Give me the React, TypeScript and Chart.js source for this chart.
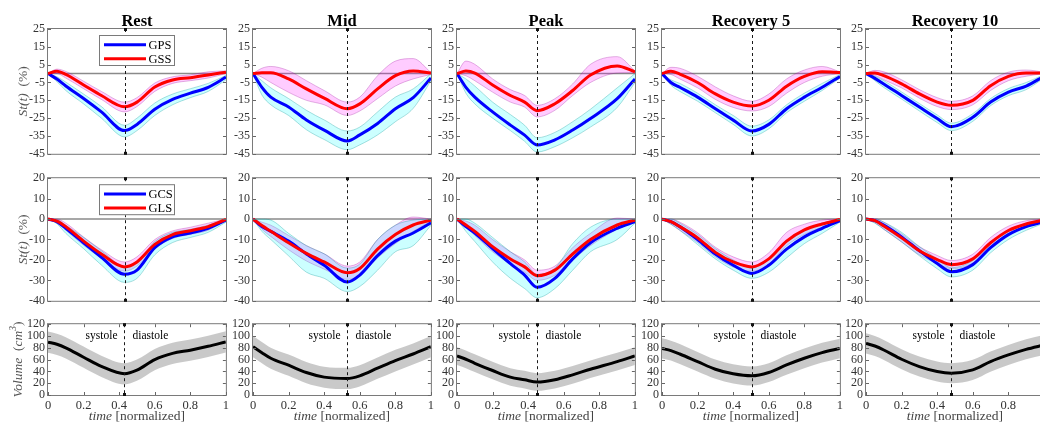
import React, { useEffect, useRef } from "react";
import { Chart, registerables } from "chart.js";
Chart.register(...registerables);

// ---------------- labels / ticks ----------------
const PANEL_TITLES = ["Rest", "Mid", "Peak", "Recovery 5", "Recovery 10"];
const END_SYSTOLE = [0.43, 0.53, 0.45, 0.505, 0.48];
const TOP_TICKS = [-45, -35, -25, -15, -5, 5, 15, 25];
const MID_TICKS = [-40, -30, -20, -10, 0, 10, 20];
const VOLUME_TICKS = [0, 20, 40, 60, 80, 100, 120];
const TIME_TICKS = [0, 0.2, 0.4, 0.6, 0.8, 1];
const TOP_LEGEND = ["GPS", "GSS"];
const MID_LEGEND = ["GCS", "GLS"];

// ---------------- time grids (normalized) ----------------
const T_REST = [0, 0.05, 0.1, 0.2, 0.3, 0.43, 0.5, 0.6, 0.7, 0.8, 0.9, 1];
const T_MID = [0, 0.05, 0.1, 0.2, 0.3, 0.4, 0.53, 0.6, 0.7, 0.8, 0.9, 1];
const T_PEAK = [0, 0.05, 0.1, 0.2, 0.3, 0.38, 0.45, 0.55, 0.65, 0.75, 0.9, 1];
const T_REC5 = [0, 0.05, 0.1, 0.2, 0.3, 0.4, 0.505, 0.6, 0.7, 0.8, 0.9, 1];
const T_REC10 = [0, 0.05, 0.1, 0.2, 0.3, 0.4, 0.48, 0.6, 0.7, 0.8, 0.9, 1];

// ---------------- GPS (row 1, blue) ----------------
const GPS_REST = [0, -3.1, -7, -14, -21.5, -32, -28.5, -20, -14.5, -11, -7.7, -2];
const GPS_REST_LO = [0, -4.5, -9.5, -17, -25, -35.5, -32, -23.5, -17.5, -13.5, -10, -3.5];
const GPS_REST_HI = [0, -1.8, -4.8, -11.5, -18.5, -29, -25, -16.5, -11.5, -8.5, -5.5, -1];
const GPS_MID = [0, -7.7, -13.2, -18.7, -26, -31.7, -37.8, -34.4, -28, -19.7, -13.5, -2.5];
const GPS_MID_LO = [0, -12, -17.5, -23.5, -31.5, -37, -42.7, -40, -34.4, -27, -19.5, -4];
const GPS_MID_HI = [0, -4, -8, -14, -20.6, -26, -32.2, -30, -21.5, -13.2, -8.6, 0];
const GPS_PEAK = [0, -7.7, -13.2, -21.5, -28.9, -34.5, -40, -37.2, -31.7, -25.2, -14.1, -3];
const GPS_PEAK_LO = [0, -11, -17, -25, -32, -38, -44, -41, -36, -30, -19, -5];
const GPS_PEAK_HI = [0, -3, -7, -16, -23, -29, -36, -33, -27, -20, -8, 0];
const GPS_REC5 = [0, -5, -7.7, -13.2, -19.7, -26.1, -32.2, -28.5, -19.7, -13.2, -7.7, -1.6];
const GPS_REC5_LO = [0, -6.5, -10, -15.5, -22, -28.5, -35, -31, -22, -15.5, -9.5, -2.5];
const GPS_REC5_HI = [0, -3.5, -5.5, -11, -17.5, -23.5, -29.5, -26, -17.5, -11, -5.5, -0.5];
const GPS_REC10 = [0, -2.7, -5.8, -12.3, -18.8, -25.2, -29.8, -24.5, -16, -10.4, -7, -1.5];
const GPS_REC10_LO = [0, -4, -7.8, -14.3, -21, -27.5, -32, -26.8, -18, -12.4, -9, -2.5];
const GPS_REC10_HI = [0, -1.5, -4, -10.3, -16.8, -23.2, -27.8, -22.5, -14, -8.4, -5, -0.5];

// ---------------- GSS (row 1, red) ----------------
const GSS_REST = [0, 1.3, -0.5, -6.4, -12.3, -18.6, -16, -7.5, -3.6, -2.3, -0.8, 0.8];
const GSS_REST_LO = [0, 0, -2.5, -8.5, -14.5, -21.5, -18.5, -10, -5.5, -4, -2.5, 0];
const GSS_REST_HI = [0, 2.5, 1.2, -4.3, -10, -16, -13.5, -5.3, -1.8, -0.7, 1, 1.5];
const GSS_MID = [0, 0.5, 0.5, -3, -8.6, -13.8, -19.7, -17, -8.6, -1.2, 1.5, 0.3];
const GSS_MID_LO = [0, -2, -5, -10.5, -15, -17.5, -23.5, -21, -14, -7, -3, -0.5];
const GSS_MID_HI = [0, 3, 4, 1.6, -4, -9.5, -16, -13.2, -1.2, 7, 8.4, 0.6];
const GSS_PEAK = [0, 1.4, 0.3, -6.4, -12.3, -16, -20.8, -16.9, -9.5, -0.8, 4.3, 1];
const GSS_PEAK_LO = [0, -1.2, -4, -10.4, -16, -18.8, -24.3, -20.6, -12.3, -5, 0.3, 0.5];
const GSS_PEAK_HI = [0, 7, 5.2, -3, -9, -12.3, -17.8, -14.1, -5.8, 5.2, 9.5, 1.5];
const GSS_REC5 = [0, 1.3, -0.3, -5, -11.4, -16, -18.2, -15, -7.1, -1.6, 1, 0.6];
const GSS_REC5_LO = [0, -0.5, -3, -8, -14.5, -19, -21, -18.5, -11, -5, -1.5, 0];
const GSS_REC5_HI = [0, 3.5, 3, -1.5, -7.5, -12.5, -15.5, -11.5, -3, 2, 4, 1];
const GSS_REC10 = [0, 0.3, -1.2, -5.8, -11.4, -16, -17.8, -15, -6.8, -1.6, 0.3, 0.3];
const GSS_REC10_LO = [0, -1, -3.5, -8, -13.8, -18.5, -20.2, -17.5, -9.5, -4, -1.5, 0];
const GSS_REC10_HI = [0, 1.8, 1, -3.5, -9, -13.5, -15.5, -12.5, -4, 0.8, 2, 0.8];

// ---------------- GCS (row 2, blue) ----------------
const GCS_REST = [0, -1.3, -4.5, -11.6, -18.7, -27, -25, -14, -8.7, -6.8, -4.5, -0.5];
const GCS_REST_LO = [0, -2.3, -7, -14.5, -22.5, -31, -29, -17.5, -11.5, -9, -6.5, -1.5];
const GCS_REST_HI = [0, -0.3, -3, -9, -15.5, -23, -21, -11, -6.5, -5, -3, 0];
const GCS_MID = [0, -3.7, -6, -10.8, -17.1, -22.6, -30.8, -27.4, -17.9, -10.8, -6.8, -1.8];
const GCS_MID_LO = [0, -6, -10, -18, -26, -29, -35.5, -33, -25, -16, -13, -3];
const GCS_MID_HI = [0, 0, -0.5, -7, -13, -17, -24, -22, -10, -3, -0.5, 0];
const GCS_PEAK = [0, -3.7, -6.8, -14.4, -21.8, -27.4, -33.4, -29, -19.5, -11.6, -4.5, -1.3];
const GCS_PEAK_LO = [0, -6, -11, -21, -29, -34, -38.5, -34, -25, -16, -10, -2];
const GCS_PEAK_HI = [0, 0, -2, -9, -16, -21, -27, -24, -12, -4, 0, 0];
const GCS_REC5 = [0, -1.3, -3.7, -10, -17.1, -22.6, -26.6, -22.6, -14.7, -8.7, -4.5, -0.8];
const GCS_REC5_LO = [0, -2.5, -5.5, -12.5, -19.5, -25, -29, -26, -19, -12, -7, -1.5];
const GCS_REC5_HI = [0, 0, -2, -7.5, -14.5, -20, -24, -19, -11, -5.5, -2, 0];
const GCS_REC10 = [0, -0.8, -2.9, -8.7, -15.5, -21.8, -25.8, -22.3, -14, -7.6, -3.7, -1.3];
const GCS_REC10_LO = [0, -2, -5, -11.2, -18, -24.3, -28.3, -25, -16.5, -10, -5.5, -2];
const GCS_REC10_HI = [0, 0, -1.5, -6.5, -13.5, -19.5, -23.8, -20.3, -12, -5.6, -2, 0];

// ---------------- GLS (row 2, red) ----------------
const GLS_REST = [0, -1, -3.7, -10.8, -17.1, -23.4, -21, -12.4, -7.6, -5.7, -3.7, -0.2];
const GLS_REST_LO = [0, -2, -5.5, -12.8, -19.2, -25.5, -23, -14.5, -9.5, -7.5, -5.5, -0.5];
const GLS_REST_HI = [0, 0, -2, -8.8, -15, -21, -18.5, -10, -5.8, -4, -2, 0];
const GLS_MID = [0, -3.2, -6, -11.6, -16.8, -21, -26.3, -24.2, -14.7, -7.6, -2.9, -0.5];
const GLS_MID_LO = [0, -5, -8.5, -15, -20.5, -24.5, -29.5, -27.5, -19, -12, -6, -1];
const GLS_MID_HI = [0, -1.5, -3, -8, -13, -17, -23, -21, -10, -3, 1, 0];
const GLS_PEAK = [0, -2.9, -6, -13.5, -19.5, -23.4, -27.7, -25, -17.1, -10, -2.9, -0.5];
const GLS_PEAK_LO = [0, -4, -8, -16, -22, -26, -30, -27.5, -20, -13, -5, -1];
const GLS_PEAK_HI = [0, -1, -3, -10, -16, -20, -25, -23, -14, -7, 0.5, 0];
const GLS_REC5 = [0, -1.3, -3.7, -9.2, -16.3, -21, -23.4, -19.5, -10.8, -5.3, -2.4, -0.2];
const GLS_REC5_LO = [0, -2.5, -5.5, -11.5, -18.5, -23.5, -25.5, -22, -13, -7.5, -4, -0.5];
const GLS_REC5_HI = [0, 0, -1.5, -6.7, -13.8, -18.5, -21, -16.5, -6.5, -2.5, -0.5, 0];
const GLS_REC10 = [0, -0.8, -3.4, -9.2, -15.5, -19.8, -22.3, -19.5, -11.6, -5.6, -2.4, -0.5];
const GLS_REC10_LO = [0, -1.8, -5, -11.2, -17.5, -21.8, -24.3, -21.5, -13.6, -7.6, -4, -1];
const GLS_REC10_HI = [0, 0.2, -1.5, -7.2, -13.5, -17.8, -20.3, -17.2, -9, -3.5, -0.8, 0];

// ---------------- Volume (row 3, black) ----------------
const VOL_REST = [89.5, 86, 80, 64, 48.5, 36, 42, 60, 70.5, 76, 82.5, 90];
const VOL_REST_LO = [71.5, 68, 62, 46, 30.5, 18, 24, 42, 52.5, 58, 64.5, 72];
const VOL_REST_HI = [107.5, 104, 98, 82, 66.5, 54, 60, 78, 88.5, 94, 100.5, 108];
const VOL_MID = [81.9, 71.8, 62.3, 50.5, 38.1, 30.3, 28, 32.5, 45.4, 58.3, 69.5, 81.9];
const VOL_MID_LO = [64, 54, 44.5, 32.5, 20, 12.5, 10, 14.5, 27.5, 40, 51.5, 64];
const VOL_MID_HI = [100, 90, 80, 68.5, 56, 48, 46, 50.5, 63.5, 76.5, 87.5, 100];
const VOL_PEAK = [66.2, 60.6, 53.8, 41.5, 30.3, 25.8, 21.9, 25.8, 34.2, 43.7, 56.6, 66.2];
const VOL_PEAK_LO = [51, 45.5, 39, 26.5, 15.5, 11, 7, 11, 19, 29, 41.5, 51];
const VOL_PEAK_HI = [81, 75.5, 69, 56.5, 45.5, 41, 37, 41, 49, 58.5, 71.5, 81];
const VOL_REC5 = [79, 75.2, 69.5, 56.6, 43.7, 35.9, 32.5, 38.1, 51, 62.3, 71.8, 79];
const VOL_REC5_LO = [62, 58.5, 52.5, 40, 27.5, 19.5, 16, 22, 34.5, 45.5, 55, 62.5];
const VOL_REC5_HI = [96, 92, 86.5, 73, 60, 52, 48.5, 54, 67.5, 79, 88.5, 95.5];
const VOL_REC10 = [87.5, 83, 76.3, 60.6, 48.2, 39.8, 37, 42.6, 56.6, 67.9, 77.4, 84.7];
const VOL_REC10_LO = [70.5, 66, 59.3, 43.6, 31.2, 22.8, 20, 25.6, 39.6, 50.9, 60.4, 67.7];
const VOL_REC10_HI = [104.5, 100, 93.3, 77.6, 65.2, 56.8, 54, 59.6, 73.6, 84.9, 94.4, 101.7];

// ---------------- assembly ----------------
const TIME_GRIDS = [T_REST, T_MID, T_PEAK, T_REC5, T_REC10];
const GPS_SETS = [[GPS_REST, GPS_REST_LO, GPS_REST_HI], [GPS_MID, GPS_MID_LO, GPS_MID_HI], [GPS_PEAK, GPS_PEAK_LO, GPS_PEAK_HI], [GPS_REC5, GPS_REC5_LO, GPS_REC5_HI], [GPS_REC10, GPS_REC10_LO, GPS_REC10_HI]];
const GSS_SETS = [[GSS_REST, GSS_REST_LO, GSS_REST_HI], [GSS_MID, GSS_MID_LO, GSS_MID_HI], [GSS_PEAK, GSS_PEAK_LO, GSS_PEAK_HI], [GSS_REC5, GSS_REC5_LO, GSS_REC5_HI], [GSS_REC10, GSS_REC10_LO, GSS_REC10_HI]];
const GCS_SETS = [[GCS_REST, GCS_REST_LO, GCS_REST_HI], [GCS_MID, GCS_MID_LO, GCS_MID_HI], [GCS_PEAK, GCS_PEAK_LO, GCS_PEAK_HI], [GCS_REC5, GCS_REC5_LO, GCS_REC5_HI], [GCS_REC10, GCS_REC10_LO, GCS_REC10_HI]];
const GLS_SETS = [[GLS_REST, GLS_REST_LO, GLS_REST_HI], [GLS_MID, GLS_MID_LO, GLS_MID_HI], [GLS_PEAK, GLS_PEAK_LO, GLS_PEAK_HI], [GLS_REC5, GLS_REC5_LO, GLS_REC5_HI], [GLS_REC10, GLS_REC10_LO, GLS_REC10_HI]];
const VOL_SETS = [[VOL_REST, VOL_REST_LO, VOL_REST_HI], [VOL_MID, VOL_MID_LO, VOL_MID_HI], [VOL_PEAK, VOL_PEAK_LO, VOL_PEAK_HI], [VOL_REC5, VOL_REC5_LO, VOL_REC5_HI], [VOL_REC10, VOL_REC10_LO, VOL_REC10_HI]];

const SERIF = "'Liberation Serif', 'Times New Roman', serif";
const PLOT_LEFT = [48, 253, 457, 662, 866];
const PLOT_W = 178;
const PAD_L = 46;
const PAD_R = 6;
const ROWS = [
  { plotTop: 29, plotH: 127, canvasTop: 0, padB: 8, min: -45, max: 25, ticks: TOP_TICKS },
  { plotTop: 177, plotH: 126, canvasTop: 168, padB: 8, min: -40, max: 20, ticks: MID_TICKS },
  { plotTop: 324, plotH: 71, canvasTop: 314, padB: 30, min: 0, max: 120, ticks: VOLUME_TICKS },
];

const BLUE = "#0000ff";
const RED = "#ff0000";
const CYAN_FILL = "rgba(0,255,255,0.2)";
const CYAN_EDGE = "rgba(0,150,150,0.45)";
const MAG_FILL = "rgba(255,0,255,0.2)";
const MAG_EDGE = "rgba(150,0,150,0.4)";
const GRAY_FILL = "rgba(0,0,0,0.21)";

type Part = { text: string; font: string; dy?: number };

function drawRich(ctx: CanvasRenderingContext2D, parts: Part[], cx: number, cy: number) {
  let total = 0;
  const widths = parts.map((p) => {
    ctx.font = p.font;
    const w = ctx.measureText(p.text).width;
    total += w;
    return w;
  });
  let x = cx - total / 2;
  ctx.textAlign = "left";
  ctx.textBaseline = "middle";
  parts.forEach((p, i) => {
    ctx.font = p.font;
    ctx.fillText(p.text, x, cy + (p.dy || 0));
    x += widths[i];
  });
}

function makeDatasets(t: number[], sets: { s: number[][]; line: string; fill: string; edge: string; ew: number }[]) {
  const pts = (arr: number[]) => t.map((x, i) => ({ x, y: arr[i] }));
  const lines: any[] = [];
  const bands: any[] = [];
  // later entries in `sets` should be on top -> put them first
  [...sets].reverse().forEach((st) => {
    lines.push({
      data: pts(st.s[0]),
      borderColor: st.line,
      borderWidth: 3,
      pointRadius: 0,
      fill: false,
      cubicInterpolationMode: "monotone",
    });
  });
  sets.forEach((st) => {
    bands.push({
      data: pts(st.s[2]),
      borderColor: st.edge,
      borderWidth: st.ew,
      pointRadius: 0,
      fill: false,
      cubicInterpolationMode: "monotone",
    });
    bands.push({
      data: pts(st.s[1]),
      borderColor: st.edge,
      borderWidth: st.ew,
      pointRadius: 0,
      backgroundColor: st.fill,
      fill: "-1",
      cubicInterpolationMode: "monotone",
    });
  });
  return [...lines, ...bands];
}

function Panel({ row, col }: { row: number; col: number }) {
  const ref = useRef<HTMLCanvasElement>(null);
  const R = ROWS[row];
  const padT = R.plotTop - R.canvasTop;
  const W = PAD_L + PLOT_W + PAD_R;
  const H = padT + R.plotH + R.padB;
  const left = PLOT_LEFT[col] - PAD_L;

  useEffect(() => {
    const t = TIME_GRIDS[col];
    let datasets: any[];
    if (row === 0) {
      datasets = makeDatasets(t, [
        { s: GPS_SETS[col], line: BLUE, fill: CYAN_FILL, edge: CYAN_EDGE, ew: 0.7 },
        { s: GSS_SETS[col], line: RED, fill: MAG_FILL, edge: MAG_EDGE, ew: 0.7 },
      ]);
    } else if (row === 1) {
      datasets = makeDatasets(t, [
        { s: GCS_SETS[col], line: BLUE, fill: CYAN_FILL, edge: CYAN_EDGE, ew: 0.7 },
        { s: GLS_SETS[col], line: RED, fill: MAG_FILL, edge: MAG_EDGE, ew: 0.7 },
      ]);
    } else {
      datasets = makeDatasets(t, [{ s: VOL_SETS[col], line: "#000000", fill: GRAY_FILL, edge: "rgba(0,0,0,0)", ew: 0 }]);
    }
    const es = END_SYSTOLE[col];

    const decor = {
      id: "decor",
      beforeDatasetsDraw(chart: any) {
        const { ctx, chartArea: a, scales } = chart;
        if (row < 2) {
          const y0 = scales.y.getPixelForValue(0);
          ctx.save();
          ctx.strokeStyle = "#8a8a8a";
          ctx.lineWidth = 1.5;
          ctx.beginPath();
          ctx.moveTo(a.left, y0);
          ctx.lineTo(a.right, y0);
          ctx.stroke();
          ctx.restore();
        }
      },
      afterDatasetsDraw(chart: any) {
        const { ctx, chartArea: a, scales } = chart;
        const xs = scales.x;
        const ys = scales.y;
        ctx.save();
        // dashed end-systole line
        const xe = Math.round(xs.getPixelForValue(es)) + 0.5;
        ctx.strokeStyle = "#1a1a1a";
        ctx.lineWidth = 1;
        ctx.setLineDash([3, 3]);
        ctx.beginPath();
        ctx.moveTo(xe, a.top);
        ctx.lineTo(xe, a.bottom);
        ctx.stroke();
        ctx.setLineDash([]);
        // frame
        ctx.strokeStyle = "#7a7a7a";
        ctx.lineWidth = 1;
        ctx.strokeRect(a.left - 0.5, a.top - 0.5, a.right - a.left + 1, a.bottom - a.top + 1);
        // inner ticks
        ctx.strokeStyle = "#666";
        ctx.beginPath();
        R.ticks.forEach((v) => {
          const py = Math.round(ys.getPixelForValue(v)) + 0.5;
          ctx.moveTo(a.left, py);
          ctx.lineTo(a.left + 3, py);
          ctx.moveTo(a.right, py);
          ctx.lineTo(a.right - 3, py);
        });
        if (row === 2) {
          TIME_TICKS.forEach((v) => {
            const px = Math.round(xs.getPixelForValue(v)) + 0.5;
            ctx.moveTo(px, a.bottom);
            ctx.lineTo(px, a.bottom - 3);
            ctx.moveTo(px, a.top);
            ctx.lineTo(px, a.top + 3);
          });
        }
        ctx.stroke();
        // end-systole markers
        ctx.fillStyle = "#111";
        ctx.fillRect(xe - 1.5, a.top - 1, 3, 3);
        ctx.fillRect(xe - 1.5, a.bottom - 2, 3, 3);
        // legend
        if (col === 0 && row < 2) {
          const labels = row === 0 ? TOP_LEGEND : MID_LEGEND;
          const bx = a.left + 51;
          const by = a.top + (row === 0 ? 6 : 6);
          ctx.fillStyle = "#ffffff";
          ctx.fillRect(bx, by, 76, 31);
          ctx.strokeStyle = "#7a7a7a";
          ctx.strokeRect(bx + 0.5, by + 0.5, 75, 30);
          [BLUE, RED].forEach((c, i) => {
            const ly = by + (i === 0 ? 9.8 : 23.8);
            ctx.strokeStyle = c;
            ctx.lineWidth = 3;
            ctx.beginPath();
            ctx.moveTo(bx + 5, ly);
            ctx.lineTo(bx + 47, ly);
            ctx.stroke();
            ctx.fillStyle = "#000";
            ctx.font = `12.5px ${SERIF}`;
            ctx.textAlign = "left";
            ctx.textBaseline = "middle";
            ctx.fillText(labels[i], bx + 49.5, ly + 0.5);
          });
        }
        // systole / diastole
        if (row === 2) {
          const ty = ys.getPixelForValue(100);
          ctx.fillStyle = "#000";
          ctx.font = `11.5px ${SERIF}`;
          ctx.textBaseline = "middle";
          ctx.textAlign = "right";
          ctx.fillText("systole", xe - 7, ty);
          ctx.textAlign = "left";
          ctx.fillText("diastole", xe + 8, ty);
        }
        ctx.restore();
      },
      afterDraw(chart: any) {
        const { ctx, chartArea: a } = chart;
        ctx.save();
        ctx.fillStyle = "#000";
        const cx = (a.left + a.right) / 2;
        if (row === 0) {
          ctx.font = `bold 16.5px ${SERIF}`;
          ctx.textAlign = "center";
          ctx.textBaseline = "alphabetic";
          ctx.fillText(PANEL_TITLES[col], cx, a.top - 3);
        }
        if (row === 2) {
          ctx.fillStyle = "#444";
          drawRich(
            ctx,
            [
              { text: "time", font: `italic 13.5px ${SERIF}` },
              { text: " [normalized]", font: `13.5px ${SERIF}` },
            ],
            cx,
            a.bottom + 21.5
          );
        }
        if (col === 0) {
          const cy = (a.top + a.bottom) / 2;
          ctx.fillStyle = "#555";
          ctx.translate(row === 2 ? 16 : 21, cy);
          ctx.rotate(-Math.PI / 2);
          if (row < 2) {
            drawRich(
              ctx,
              [
                { text: "St(t)", font: `italic 13.5px ${SERIF}` },
                { text: "  (%)", font: `13.5px ${SERIF}` },
              ],
              0,
              0
            );
          } else {
            drawRich(
              ctx,
              [
                { text: "Volume", font: `italic 13.5px ${SERIF}` },
                { text: "  (", font: `13.5px ${SERIF}` },
                { text: "cm", font: `italic 13.5px ${SERIF}` },
                { text: "3", font: `italic 9.5px ${SERIF}`, dy: -5 },
                { text: ")", font: `13.5px ${SERIF}` },
              ],
              0,
              0
            );
          }
        }
        ctx.restore();
      },
    };

    const chart = new Chart(ref.current as HTMLCanvasElement, {
      type: "line",
      data: { datasets },
      options: {
        animation: false,
        responsive: false,
        devicePixelRatio: 1,
        events: [],
        layout: { padding: { top: padT, right: PAD_R, left: 0, bottom: 0 } },
        plugins: {
          legend: { display: false },
          tooltip: { enabled: false },
          title: { display: false },
          filler: { propagate: false },
        },
        scales: {
          x: {
            type: "linear",
            min: 0,
            max: 1,
            grid: { display: false, drawTicks: false },
            border: { display: false },
            ticks: {
              display: row === 2,
              autoSkip: false,
              maxRotation: 0,
              padding: 3,
              color: "#333",
              font: { family: SERIF, size: 12.5 },
              callback: (v: any) => String(v),
            },
            afterBuildTicks: (s: any) => {
              s.ticks = TIME_TICKS.map((v) => ({ value: v }));
            },
            afterFit: (s: any) => {
              s.height = R.padB;
            },
          },
          y: {
            type: "linear",
            min: R.min,
            max: R.max,
            grid: { display: false, drawTicks: false },
            border: { display: false },
            ticks: {
              autoSkip: false,
              padding: 3,
              color: "#333",
              font: { family: SERIF, size: 12 },
              callback: (v: any) => String(v),
            },
            afterBuildTicks: (s: any) => {
              s.ticks = R.ticks.map((v) => ({ value: v }));
            },
            afterFit: (s: any) => {
              s.width = PAD_L;
            },
          },
        },
      } as any,
      plugins: [decor],
    });
    return () => chart.destroy();
  }, [row, col]);

  return (
    <canvas
      ref={ref}
      width={W}
      height={H}
      style={{ position: "absolute", left, top: R.canvasTop, width: W, height: H }}
    />
  );
}

export default function App() {
  const cells: React.ReactElement[] = [];
  for (let r = 0; r < 3; r++) {
    for (let c = 0; c < 5; c++) {
      cells.push(<Panel key={`${r}-${c}`} row={r} col={c} />);
    }
  }
  return (
    <div
      style={{
        position: "fixed",
        left: 0,
        top: 0,
        width: 1040,
        height: 423,
        overflow: "hidden",
        background: "#ffffff",
      }}
    >
      {cells}
    </div>
  );
}
